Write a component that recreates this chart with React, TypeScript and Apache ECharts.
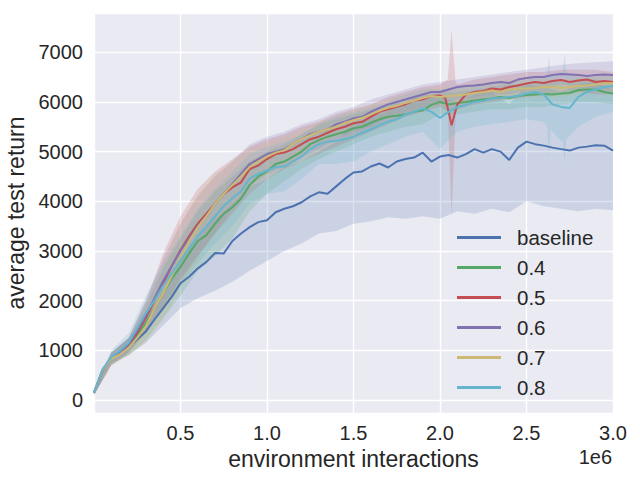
import React, { useEffect, useRef } from "react";
import * as echarts from "echarts";

// x grid for mean curves, in millions of interactions
const X_M = [
  0, 0.05, 0.1, 0.15, 0.2, 0.25, 0.3, 0.35, 0.4, 0.45,
  0.5, 0.55, 0.6, 0.65, 0.7, 0.75, 0.8, 0.85, 0.9, 0.95,
  1.0, 1.05, 1.1, 1.15, 1.2, 1.25, 1.3, 1.35, 1.4, 1.45,
  1.5, 1.55, 1.6, 1.65, 1.7, 1.75, 1.8, 1.85, 1.9, 1.95,
  2.0, 2.05, 2.1, 2.15, 2.2, 2.25, 2.3, 2.35, 2.4, 2.45,
  2.5, 2.55, 2.6, 2.65, 2.7, 2.75, 2.8, 2.85, 2.9, 2.95,
  3.0,
];

const BASELINE = [
  150, 600, 850, 980, 1080, 1220, 1380, 1620, 1850, 2080,
  2350, 2480, 2650, 2780, 2960, 2950, 3200, 3350, 3480, 3580,
  3620, 3780, 3850, 3900, 3980, 4100, 4180, 4150, 4300, 4450,
  4580, 4600, 4700, 4760, 4680, 4800, 4850, 4880, 4980, 4800,
  4900, 4930, 4880, 4950, 5050, 4980, 5050, 5000, 4830, 5080,
  5200, 5150, 5120, 5080, 5050, 5020, 5080, 5100, 5130, 5120,
  5020,
];
const S04 = [
  150, 600, 840, 950, 1080, 1300, 1550, 1850, 2150, 2450,
  2680, 2950, 3200, 3320, 3550, 3750, 3880, 4050, 4330, 4500,
  4600, 4750, 4800, 4900, 5000, 5150, 5230, 5300, 5350, 5400,
  5470, 5500, 5580, 5650, 5700, 5720, 5750, 5800, 5830, 5940,
  6000, 5950, 5980, 6000, 6030, 6050, 6070, 6100, 6080, 6120,
  6140, 6150, 6160, 6150, 6170, 6180, 6240, 6250, 6250, 6200,
  6170,
];
const S05 = [
  150, 600, 840, 950, 1100, 1350, 1650, 2000, 2350, 2700,
  3020, 3300, 3550, 3750, 3950, 4150, 4280, 4380, 4650, 4720,
  4850, 4950, 4980, 5050, 5150, 5250, 5300, 5380, 5450, 5500,
  5570, 5600, 5700, 5800, 5850, 5900, 5950, 6030, 6050, 6120,
  6130, 5800, 5950, 6150, 6200, 6220, 6270, 6250, 6300, 6330,
  6370, 6400, 6380, 6420, 6440, 6400, 6430, 6450, 6400, 6420,
  6400,
];
const S05_DIP_X_M = [2.03, 2.067];
const S05_DIP = [6080, 5530];
const S06 = [
  150, 600, 850, 960, 1120, 1400, 1700, 2050, 2400, 2700,
  3000, 3250, 3500, 3700, 3950, 4150, 4350, 4550, 4750, 4850,
  4950, 5000, 5050, 5150, 5250, 5350, 5400, 5450, 5550, 5600,
  5670, 5700, 5800, 5880, 5950, 6000, 6050, 6100, 6150, 6200,
  6200, 6250, 6300, 6320, 6330, 6350, 6380, 6400, 6380, 6450,
  6480, 6500, 6500, 6540, 6560, 6550, 6540, 6520, 6540, 6550,
  6540,
];
const S07 = [
  150, 600, 830, 920, 1050, 1250, 1480, 1850, 2150, 2500,
  2880, 3200, 3480, 3700, 3950, 4150, 4330, 4500, 4690, 4800,
  4900, 4980, 5030, 5150, 5250, 5330, 5400, 5450, 5500, 5580,
  5630, 5680, 5750, 5820, 5880, 5920, 5980, 6030, 6080, 6120,
  6100, 6120, 6130, 6150, 6180, 6200, 6230, 6200, 6250, 6270,
  6270, 6280, 6300, 6300, 6280, 6300, 6320, 6330, 6350, 6370,
  6380,
];
const S08 = [
  150, 620, 870, 990, 1150, 1450, 1750, 2000, 2300, 2550,
  2810, 3050, 3300, 3490, 3700, 3900, 4060, 4200, 4460, 4550,
  4620, 4690, 4700, 4800, 4900, 5050, 5150, 5200, 5220, 5250,
  5300, 5380, 5450, 5530, 5600, 5650, 5750, 5800, 5870, 5800,
  5680, 5800, 5900, 5940, 6000, 6020, 6070, 6080, 6100, 6120,
  6170, 6200, 6150, 5950, 5900, 5880, 6100, 6200, 6250, 6300,
  6320,
];

// band grid
const BAND_X_M = [
  0, 0.1, 0.2, 0.3, 0.4, 0.5, 0.6, 0.7, 0.8, 0.9,
  1.0, 1.1, 1.2, 1.3, 1.4, 1.5, 1.6, 1.7, 1.8, 1.9,
  2.0, 2.1, 2.2, 2.3, 2.4, 2.5, 2.6, 2.7, 2.8, 2.9,
  3.0,
];
const BASE_LO = [100, 750, 900, 1150, 1500, 1850, 2050, 2200, 2380, 2600, 2800, 3000, 3150, 3350, 3400, 3550, 3600, 3680, 3650, 3700, 3650, 3800, 3750, 3850, 3780, 4000, 3900, 3850, 3800, 3850, 3820];
const BASE_HI = [200, 950, 1250, 1650, 2200, 2850, 3250, 3650, 3950, 4300, 4450, 4700, 4800, 5000, 5200, 5550, 5700, 5800, 6000, 6150, 6100, 6000, 6150, 6200, 5950, 6350, 6300, 6200, 6350, 6400, 6250];
const S04_LO = [100, 700, 900, 1200, 1650, 2100, 2600, 2900, 3250, 3800, 4150, 4400, 4650, 4850, 5000, 5150, 5300, 5400, 5500, 5550, 5750, 5750, 5800, 5850, 5850, 5900, 5900, 5950, 6000, 6000, 5950];
const S04_HI = [200, 950, 1250, 1900, 2650, 3250, 3800, 4200, 4500, 4800, 5000, 5150, 5350, 5550, 5650, 5750, 5850, 5950, 6000, 6100, 6200, 6200, 6250, 6300, 6350, 6350, 6400, 6400, 6450, 6450, 6400];
const S05_LO = [100, 700, 950, 1350, 1850, 2400, 2900, 3350, 3750, 4150, 4450, 4650, 4800, 4950, 5100, 5250, 5400, 5550, 5700, 5800, 5900, 5850, 5950, 6000, 6050, 6100, 6150, 6200, 6200, 6150, 6150];
const S05_HI = [200, 950, 1250, 2000, 2950, 3700, 4250, 4600, 4850, 5100, 5250, 5350, 5500, 5600, 5750, 5850, 5950, 6100, 6200, 6300, 6350, 6350, 6450, 6500, 6550, 6600, 6600, 6650, 6650, 6650, 6600];
const S05_SPIKE_X_M = [2.045, 2.067, 2.09];
const S05_SPIKE_LO = [5800, 3700, 5750];
const S05_SPIKE_HI = [6450, 7450, 6400];
const S06_LO = [100, 700, 950, 1400, 1900, 2450, 2900, 3350, 3850, 4300, 4550, 4700, 4900, 5050, 5250, 5400, 5500, 5700, 5800, 5900, 5950, 6050, 6100, 6150, 6150, 6250, 6300, 6350, 6300, 6280, 6260];
const S06_HI = [200, 950, 1250, 2000, 2850, 3550, 4100, 4500, 4800, 5150, 5300, 5400, 5550, 5650, 5800, 5900, 6050, 6150, 6250, 6350, 6400, 6450, 6500, 6550, 6600, 6650, 6700, 6750, 6780, 6800, 6820];
const S07_LO = [100, 700, 900, 1150, 1600, 2250, 2850, 3350, 3850, 4300, 4550, 4750, 4950, 5150, 5300, 5400, 5550, 5700, 5800, 5900, 5900, 5950, 6000, 6050, 6050, 6100, 6100, 6100, 6150, 6200, 6200];
const S07_HI = [200, 900, 1200, 1900, 2750, 3550, 4150, 4550, 4800, 5050, 5200, 5300, 5450, 5600, 5700, 5850, 5950, 6050, 6150, 6250, 6300, 6300, 6350, 6400, 6450, 6450, 6480, 6450, 6500, 6520, 6550];
const S08_LO = [100, 750, 950, 1400, 1850, 2300, 2750, 3150, 3500, 3950, 4150, 4200, 4450, 4750, 4750, 4800, 5000, 5150, 5300, 5400, 5050, 5400, 5500, 5550, 5600, 5650, 5600, 5200, 5500, 5700, 5800];
const S08_HI = [200, 1000, 1350, 2100, 2750, 3300, 3850, 4250, 4600, 4950, 5100, 5200, 5350, 5550, 5700, 5800, 5900, 6000, 6150, 6250, 6250, 6300, 6350, 6400, 6400, 6450, 6500, 6600, 6500, 6500, 6550];
const S08_SPIKE_X_M = [2.62, 2.63, 2.64, 2.71, 2.72, 2.73];
const S08_SPIKE_LO = [5500, 4900, 5450, 5250, 4760, 5250];
const S08_SPIKE_HI = [6550, 6940, 6550, 6600, 6980, 6600];

const NAMES = ["baseline", "0.4", "0.5", "0.6", "0.7", "0.8"];
const COLORS = ["#4C72B0", "#55A868", "#C44E52", "#8172B2", "#CCB974", "#64B5CD"];
const Y_TICKS = [0, 1000, 2000, 3000, 4000, 5000, 6000, 7000];

const FONT = "'Liberation Sans', Arial, sans-serif";
const TEXT = "#262626";

function pairs(xs: number[], ys: number[], exX: number[] = [], exY: number[] = []) {
  const out: number[][] = xs.map((x, i) => [x * 1e6, ys[i]]);
  exX.forEach((x, i) => out.push([x * 1e6, exY[i]]));
  out.sort((a, b) => a[0] - b[0]);
  return out;
}

function bandPoints(
  lo: number[], hi: number[],
  exX: number[] = [], exLo: number[] = [], exHi: number[] = []
) {
  const l = pairs(BAND_X_M, lo, exX, exLo);
  const h = pairs(BAND_X_M, hi, exX, exHi);
  return { l, h };
}

export default function App() {
  const ref = useRef<HTMLDivElement>(null);
  useEffect(() => {
    document.body.style.margin = "0";
    const chart = echarts.init(ref.current!, null, { renderer: "svg" });
    const means = [
      pairs(X_M, BASELINE),
      pairs(X_M, S04),
      pairs(X_M, S05, S05_DIP_X_M, S05_DIP),
      pairs(X_M, S06),
      pairs(X_M, S07),
      pairs(X_M, S08),
    ];
    const bands = [
      bandPoints(BASE_LO, BASE_HI),
      bandPoints(S04_LO, S04_HI),
      bandPoints(S05_LO, S05_HI, S05_SPIKE_X_M, S05_SPIKE_LO, S05_SPIKE_HI),
      bandPoints(S06_LO, S06_HI),
      bandPoints(S07_LO, S07_HI),
      bandPoints(S08_LO, S08_HI, S08_SPIKE_X_M, S08_SPIKE_LO, S08_SPIKE_HI),
    ];
    const series: any[] = [];
    bands.forEach((b, i) => {
      series.push({
        type: "custom",
        name: "band-" + NAMES[i],
        silent: true,
        clip: true,
        z: 1,
        data: [[0, 0]],
        renderItem: (_p: any, api: any) => {
          const pts = [
            ...b.h.map((p) => api.coord(p)),
            ...b.l.slice().reverse().map((p) => api.coord(p)),
          ];
          return {
            type: "polygon",
            shape: { points: pts },
            style: { fill: COLORS[i], opacity: 0.2 },
          };
        },
      });
    });
    means.forEach((d, i) => {
      series.push({
        type: "line",
        name: NAMES[i],
        data: d,
        showSymbol: false,
        symbol: "none",
        z: 3,
        color: COLORS[i],
        lineStyle: { width: 2, color: COLORS[i] },
      });
    });
    chart.setOption({
      animation: false,
      textStyle: { fontFamily: FONT },
      grid: {
        left: 94, right: 27, top: 13, bottom: 67,
        containLabel: false,
        outerBoundsMode: "none",
        show: true, backgroundColor: "#EAEAF2", borderWidth: 0,
      },
      xAxis: {
        type: "value",
        min: 0, max: 3e6, interval: 5e5,
        name: "environment interactions",
        nameLocation: "middle",
        nameGap: 32,
        nameTextStyle: { fontSize: 23, color: TEXT, fontFamily: FONT },
        axisLine: { show: false },
        axisTick: { show: false },
        axisLabel: {
          showMinLabel: false,
          fontSize: 20, color: TEXT, fontFamily: FONT, margin: 10,
          formatter: (v: number) => (v / 1e6).toFixed(1),
        },
        splitLine: { show: true, lineStyle: { color: "#ffffff", width: 1.4 } },
      },
      yAxis: {
        type: "value",
        min: -262, max: 7790,
        splitNumber: 8,
        name: "average test return",
        nameLocation: "middle",
        nameGap: 59,
        nameRotate: 90,
        nameTextStyle: { fontSize: 23, color: TEXT, fontFamily: FONT },
        axisLine: { show: false },
        axisTick: { show: false },
        axisLabel: {
          showMinLabel: false, showMaxLabel: false,
          fontSize: 20, color: TEXT, fontFamily: FONT, margin: 11,
          formatter: (v: number) => (Y_TICKS.includes(v) ? String(v) : ""),
        },
        splitLine: { show: true, lineStyle: { color: "#ffffff", width: 1.4 } },
      },
      legend: {
        data: NAMES,
        orient: "vertical",
        left: 452, top: 222,
        itemWidth: 44, itemHeight: 3, itemGap: 9,
        icon: "rect",
        textStyle: {
          fontSize: 20.5, color: TEXT, fontFamily: FONT,
          lineHeight: 20, padding: [0, 0, 0, 11],
        },
      },
      graphic: [
        {
          type: "text",
          right: 28, top: 447,
          style: { text: "1e6", fontSize: 20, fill: TEXT, fontFamily: FONT },
        },
      ],
      series,
    });
    return () => chart.dispose();
  }, []);
  return (
    <div
      ref={ref}
      style={{ position: "absolute", left: 0, top: 0, width: 640, height: 480 }}
    />
  );
}
